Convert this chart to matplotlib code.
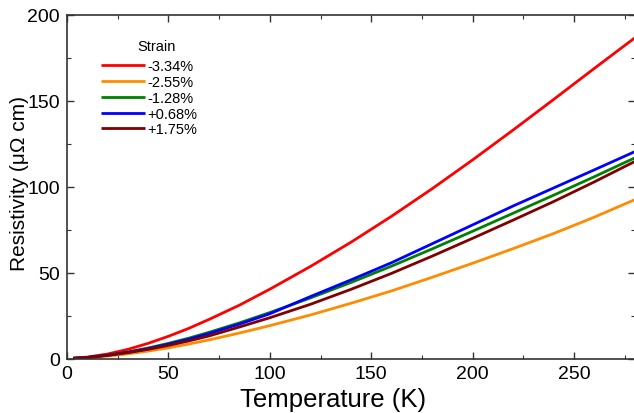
import matplotlib
matplotlib.use("Agg")
import matplotlib.pyplot as plt
from matplotlib.ticker import MultipleLocator

plt.rcParams['font.family'] = ['Liberation Sans', 'DejaVu Sans']

# Data
T = [3, 10, 20, 30, 40, 50, 60, 70, 85, 100, 120, 140, 160, 180, 200, 220, 240, 260, 280]
R_red = [0.5, 1.1, 2.9, 5.6, 9.1, 13.2, 17.8, 23.0, 31.3, 40.6, 53.8, 67.9, 83.0, 99.0, 115.8, 133.2, 151.0, 169.0, 186.8]
R_orange = [0.3, 0.7, 1.7, 3.0, 4.6, 6.5, 8.7, 11.1, 15.1, 19.4, 25.6, 32.4, 39.6, 47.5, 55.7, 64.2, 73.0, 82.5, 92.7]
R_green = [0.4, 0.9, 2.3, 4.1, 6.4, 9.1, 12.1, 15.5, 21.0, 27.0, 35.5, 44.5, 54.0, 64.0, 74.3, 84.8, 95.3, 106.0, 117.0]
R_blue = [0.4, 0.9, 2.2, 3.9, 6.0, 8.6, 11.5, 14.8, 20.3, 26.3, 36.3, 46.0, 56.0, 67.0, 78.0, 89.0, 99.5, 110.0, 120.6]
R_brown = [0.4, 0.9, 2.1, 3.7, 5.6, 7.9, 10.5, 13.4, 18.6, 24.0, 31.8, 40.5, 49.8, 59.8, 70.2, 80.8, 91.6, 103.0, 114.9]

labels = ['-3.34%', '-2.55%', '-1.28%', '+0.68%', '+1.75%']
colors = ['#FF0000', '#FF8C00', '#008000', '#0000FF', '#800000']

fig = plt.figure(figsize=(6.34, 4.14), dpi=100)
ax = fig.add_axes([67/634, 54/414, 568/634, 344/414])

for r, lab, c in zip([R_red, R_orange, R_green, R_blue, R_brown], labels, colors):
    ax.plot(T, r, color=c, lw=2.0, label=lab, solid_capstyle='butt')

ax.set_xlim(0, 280)
ax.set_ylim(0, 200)
ax.xaxis.set_major_locator(MultipleLocator(50))
ax.xaxis.set_minor_locator(MultipleLocator(25))
ax.yaxis.set_major_locator(MultipleLocator(50))
ax.yaxis.set_minor_locator(MultipleLocator(25))
ax.tick_params(which='both', direction='in', top=True, right=True, color='#333333')
ax.tick_params(which='major', length=5, width=1.0, labelsize=14)
ax.tick_params(axis='x', which='major', pad=4)
ax.tick_params(axis='y', which='major', pad=5)
ax.tick_params(which='minor', length=3, width=0.8)
for s in ax.spines.values():
    s.set_color('#333333')
    s.set_linewidth(1.2)

ax.set_xlabel('Temperature (K)', fontsize=18.5, labelpad=4)
ax.set_ylabel('Resistivity (μΩ cm)', fontsize=15, labelpad=-1)
ax.xaxis.label.set_x(0.468)
ax.yaxis.label.set_y(0.512)

ax.legend(loc='upper left', bbox_to_anchor=(0.06, 0.871),
          frameon=False, fontsize=10.5, borderpad=0,
          handlelength=3.0, handletextpad=0.2, labelspacing=0.12,
          borderaxespad=0)
ax.text(0.157, 0.91, 'Strain', transform=ax.transAxes, fontsize=10.5,
        ha='center', va='center')

fig.savefig('out.png', dpi=100)
